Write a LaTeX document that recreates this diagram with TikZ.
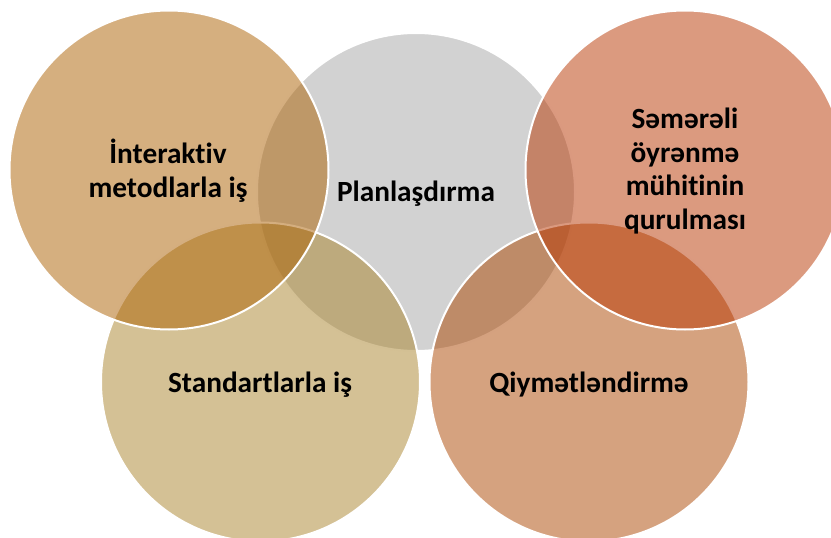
\documentclass[tikz,border=0pt]{standalone}
\usepackage{fontspec}
\setmainfont[RawFeature={-liga;-clig}]{Carlito}
\definecolor{cgray}{RGB}{165,165,165}
\definecolor{ctan}{RGB}{171,95,0}
\definecolor{cstd}{RGB}{169,131,43}
\definecolor{cqiy}{RGB}{171,69,0}
\definecolor{cred}{RGB}{183,53,0}
\tikzset{
  venn/.style={circle,draw=white,line width=2pt,fill opacity=0.5,draw opacity=1,minimum size=#1,inner sep=0pt},
  lbl/.style={font=\bfseries\fontsize{29.3}{33.6}\selectfont,align=center,text=black,inner sep=0pt}
}
\begin{document}
\begin{tikzpicture}[x=1pt,y=-1pt]
\useasboundingbox (0,0) rectangle (831,538);
\begin{scope}
\clip (0,0) rectangle (831,538);
\node[venn=318pt,fill=cgray] (plan) at (416,192) {};
\node[venn=319pt,fill=cstd] (std) at (260.5,382) {};
\node[venn=319pt,fill=ctan] (int) at (169,170) {};
\node[venn=319pt,fill=cqiy] (qiy) at (589,382) {};
\node[venn=319pt,fill=cred] (sem) at (685,170) {};
\end{scope}
\node[lbl] (t1) at (168,171) {İnteraktiv\\metodlarla iş};
\node[lbl] (t2) at (416,194) {Planlaşdırma};
\node[lbl] (t3) at (685,171) {Səmərəli\\öyrənmə\\mühitinin\\qurulması};
\node[lbl] (t4) at (260,385) {Standartlarla iş};
\node[lbl] (t5) at (589,385) {Qiymətləndirmə};
\end{tikzpicture}
\end{document}
